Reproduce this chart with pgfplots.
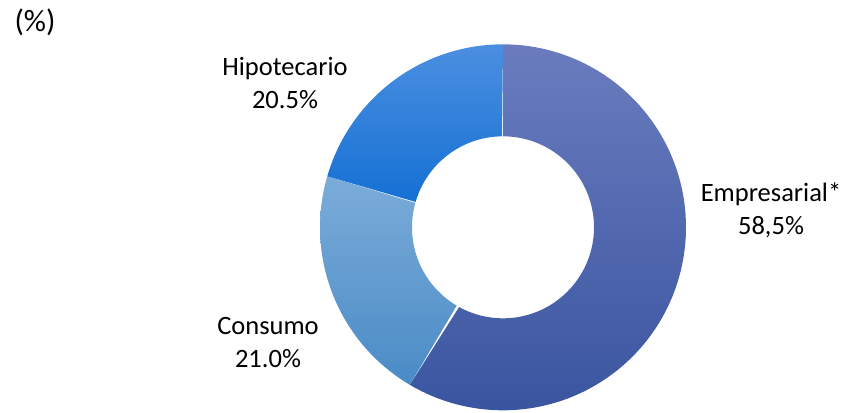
\documentclass[border=0pt]{standalone}
\usepackage{pgfplots}
\pgfplotsset{compat=1.18}
\usepackage{fontspec}
\setmainfont{Carlito}
\definecolor{empT}{HTML}{6A7CBE}
\definecolor{empB}{HTML}{3A55A0}
\definecolor{conT}{HTML}{7BACD9}
\definecolor{conB}{HTML}{4A8BC6}
\definecolor{hipT}{HTML}{4B8FE0}
\definecolor{hipB}{HTML}{1570D4}
% values (%)
\def\vEmp{58.5}
\def\vCon{21.0}
\def\vHip{20.5}
\def\cx{503}\def\cy{185}\def\Ro{183}\def\Ri{91}
\pgfmathsetmacro{\aA}{90}
\pgfmathsetmacro{\aB}{90-3.6*\vEmp}
\pgfmathsetmacro{\aC}{\aB-3.6*\vCon}
\pgfmathsetmacro{\aD}{\aC-3.6*\vHip}
\newcommand{\donutwedge}[3]{%
\addplot[#3, domain=0:2, samples=241, variable=\t]
 ({\cx+ifthenelse(\t<=1,\Ro,\Ri)*cos(ifthenelse(\t<=1,#1+(#2-#1)*\t,#2+(#1-#2)*(\t-1)))},
  {\cy+ifthenelse(\t<=1,\Ro,\Ri)*sin(ifthenelse(\t<=1,#1+(#2-#1)*\t,#2+(#1-#2)*(\t-1)))}) -- cycle;}
\begin{document}
\fontsize{26.5bp}{32bp}\selectfont
\begin{tikzpicture}
\begin{axis}[
  width=859bp, height=412bp, scale only axis,
  xmin=0, xmax=859, ymin=0, ymax=412,
  hide axis, clip=false,
]
\path (rel axis cs:0,0) rectangle (rel axis cs:1,1);
\donutwedge{\aA}{\aB}{top color=empT, bottom color=empB, draw=none}
\donutwedge{\aB}{\aC}{top color=conT, bottom color=conB, draw=none}
\donutwedge{\aC}{\aD}{top color=hipT, bottom color=hipB, draw=none}
\node[align=center, font=\fontsize{26.5bp}{33bp}\selectfont] at (axis cs:771,202) {Empresarial*\\58,5\%};
\node[align=center, font=\fontsize{26.5bp}{33bp}\selectfont] at (axis cs:268,70) {Consumo\\21.0\%};
\node[align=center, font=\fontsize{26.5bp}{33bp}\selectfont] at (axis cs:285,329) {Hipotecario\\20.5\%};
\node[font=\fontsize{31bp}{36bp}\selectfont] at (axis cs:35,390) {(\%)};
\end{axis}
\end{tikzpicture}
\end{document}
